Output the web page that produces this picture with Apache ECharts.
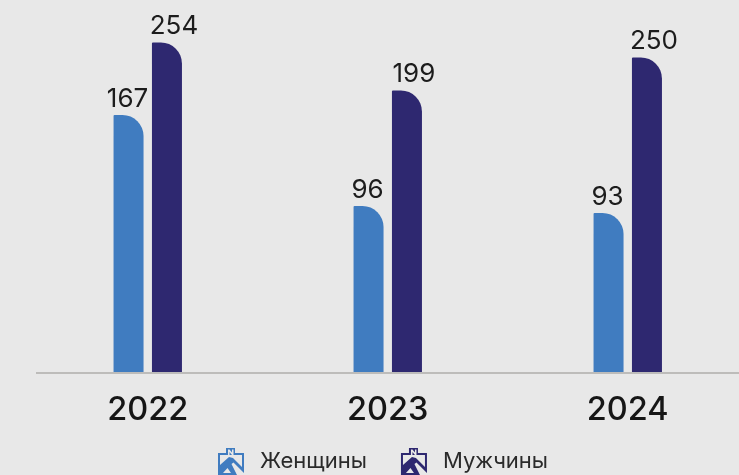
<!DOCTYPE html>
<html><head><meta charset="utf-8">
<style>html,body{margin:0;padding:0;background:#e8e8e8}#c{width:739px;height:475px}</style>
<script src="https://cdn.jsdelivr.net/npm/echarts@6/dist/echarts.min.js"></script>
</head><body><div id="c"></div>
<script>
const categories = ['2022', '2023', '2024'];
const seriesNames = ['Женщины', 'Мужчины'];
// Printed values
const womenLabels = [167, 96, 93];
const menLabels = [254, 199, 250];
// Bar lengths as measured in the picture: the source bars are not proportional to their printed values
const womenHeights = [258, 167, 160];
const menHeights = [330.5, 282.5, 315.5];

const iconPath = 'M0 5L8 5L8 0L17 0L17 5L26 5L26 27L0 27Z' +
  'M2 7L2 17L11 9L15 10L24 19L24 7Z' +
  'M5 25L13 25L9.5 20Z' +
  'M19 27L26 27L26 25L15.5 14.5L13.5 16Z' +
  'M10 1.5L10 7L11.5 7L11.5 4L14 7L15.5 7L15.5 1.5L14 1.5L14 4.5L11.5 1.5Z';

const chart = echarts.init(document.getElementById('c'));
const labelStyle = {show: true, position: 'top', fontFamily: 'Inter', fontSize: 26, color: '#1c1c1c', distance: 3};
function barSeries(name, heights, labels, color, dx) {
  return {
    name, type: 'bar', barWidth: 30, barGap: '28%',
    data: heights,
    itemStyle: {color, borderRadius: [1, 21, 0, 0]},
    label: {...labelStyle, offset: [dx, 0], formatter: p => String(labels[p.dataIndex])},
    emphasis: {disabled: true}
  };
}
chart.setOption({
  animation: false,
  backgroundColor: '#e8e8e8',
  grid: {left: 27.75, width: 720, top: 0, height: 373, outerBoundsMode: 'none'},
  legend: {
    left: 218, top: 448, padding: 0, itemWidth: 26, itemHeight: 27, itemGap: 34, icon: 'path://' + iconPath,
    data: seriesNames,
    textStyle: {fontFamily: 'Inter', fontSize: 22, color: '#2a2a2a', padding: [0, 0, 0, 11]}
  },
  xAxis: {
    type: 'category', data: categories,
    axisLine: {show: false}, axisTick: {show: false},
    axisLabel: {fontFamily: 'Inter', fontSize: 32.5, fontWeight: 500, color: '#161616', margin: 21}
  },
  yAxis: {type: 'value', min: 0, max: 373, show: false, splitLine: {show: false}},
  series: [
    barSeries(seriesNames[0], womenHeights, womenLabels, '#407cc0', -1),
    barSeries(seriesNames[1], menHeights, menLabels, '#2e2870', 7)
  ],
  graphic: [{
    type: 'line', silent: true, z: 5,
    shape: {x1: 36, y1: 373, x2: 739, y2: 373},
    style: {stroke: '#bdbcba', lineWidth: 2}
  }]
});
</script></body></html>
